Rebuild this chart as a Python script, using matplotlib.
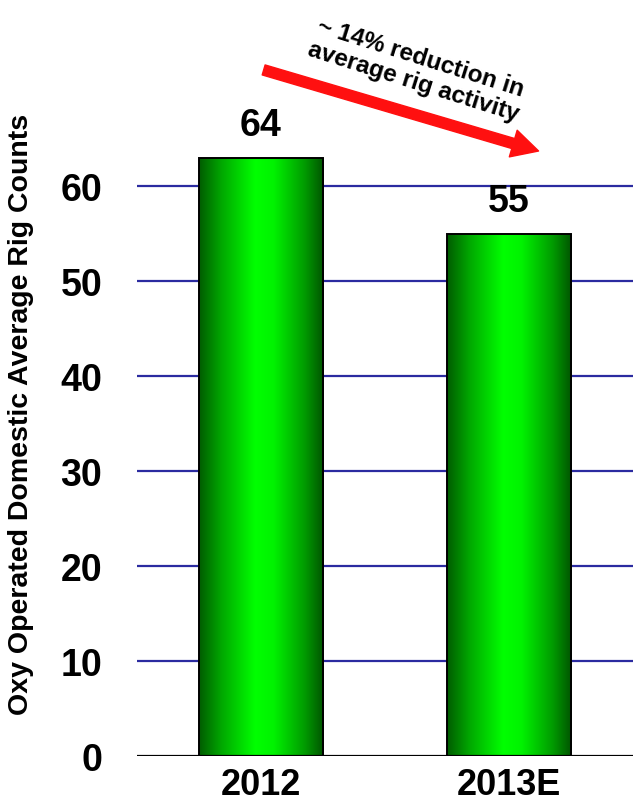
import matplotlib
matplotlib.use("Agg")
import matplotlib.pyplot as plt
import numpy as np
from matplotlib.colors import LinearSegmentedColormap

#########################################
# Data
#########################################

years = ["2012", "2013E"]
rig_counts = [63, 55]          # bar heights
value_labels = ["64", "55"]    # labels as printed on the slide
y_ticks = [0, 10, 20, 30, 40, 50, 60]
y_label = "Oxy Operated Domestic Average Rig Counts"
note_text = "~ 14% reduction in\naverage rig activity"

#########################################
# Plot
#########################################

plt.rcParams['font.family'] = ['Liberation Sans', 'DejaVu Sans']
plt.rcParams['font.weight'] = 'bold'

fig = plt.figure(figsize=(6.33, 8.04), dpi=100)
ax = fig.add_axes([137 / 633, 1 - 757 / 804, 1 - 137 / 633, (757 - 92) / 804])

x = np.arange(len(years))
bar_width = 0.504

# gridlines behind the bars
for t in y_ticks[1:]:
    ax.axhline(t, color='#2b2ba0', linewidth=1.6, zorder=1)
ax.axhline(0, color='black', linewidth=1.6, zorder=4)

# green cylinder-like gradient, dark at the sides, bright in the middle
green_cmap = LinearSegmentedColormap.from_list(
    "bar_green", [(0.0, "#005c00"), (0.18, "#00a800"), (0.45, "#00ff00"),
                  (0.6, "#00f200"), (0.85, "#009a00"), (1.0, "#005400")])
gradient = np.linspace(0, 1, 256).reshape(1, -1)

bars = ax.bar(x, rig_counts, width=bar_width, facecolor='none',
              edgecolor='black', linewidth=1.4, zorder=3)
for bar in bars:
    x0, y0 = bar.get_x(), bar.get_y()
    w, h = bar.get_width(), bar.get_height()
    img = ax.imshow(gradient, cmap=green_cmap, aspect='auto',
                    extent=[x0, x0 + w, y0, y0 + h], zorder=2)
    img.set_clip_path(bar)

for xi, val, lab in zip(x, rig_counts, value_labels):
    ax.text(xi, val + 1.5, lab, ha='center', va='bottom',
            fontsize=27, fontweight='bold')

ax.set_xlim(-0.5, 1.5)
ax.set_ylim(0, 70)
ax.set_xticks(x)
ax.set_xticklabels(years, fontsize=26, fontweight='bold')
ax.set_yticks(y_ticks)
ax.set_yticklabels([str(t) for t in y_ticks], fontsize=27, fontweight='bold')
ax.tick_params(axis='both', length=0)
ax.tick_params(axis='y', pad=25)
ax.tick_params(axis='x', pad=8)
for s in ax.spines.values():
    s.set_visible(False)

fig.text(21 / 633, 1 - 414 / 804, y_label, rotation=90, ha='center', va='center',
         fontsize=20.5, fontweight='bold')

# red trend arrow and note
ax.annotate("", xy=(1.13, 63.6), xytext=(0.0, 72.3),
            arrowprops=dict(arrowstyle="simple,head_length=1.9,head_width=2.0,tail_width=0.75",
                            color='#ff1010', mutation_scale=10),
            annotation_clip=False, zorder=5)
ax.text(0.63, 72.3, note_text, rotation=-17.5, ha='center', va='center',
        fontsize=17.5, fontweight='bold', linespacing=1.1,
        rotation_mode='anchor', clip_on=False)

fig.savefig("out.png", dpi=100)
